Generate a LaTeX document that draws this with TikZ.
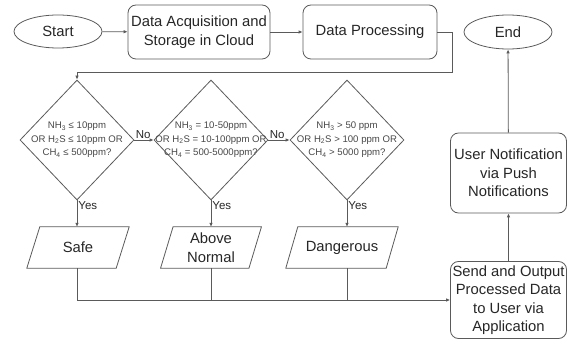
\documentclass[tikz,border=0pt]{standalone}
\usepackage{fontspec}
\setmainfont{Liberation Sans}
\usetikzlibrary{shapes.geometric,arrows.meta}
\definecolor{ln}{HTML}{5A5A5A}
\definecolor{tx}{HTML}{262626}
\definecolor{dtx}{HTML}{474747}
\tikzset{
  base/.style={draw=ln, line width=0.8pt, text=tx, font=\fontsize{14.8}{18.5}\selectfont, align=center, inner sep=0pt},
  term/.style={base, ellipse, minimum width=88pt, minimum height=33pt},
  procbox/.style={base, rounded corners=8pt},
  dia/.style={draw=ln, line width=0.8pt, diamond, minimum width=114pt, minimum height=120pt, inner sep=0pt},
  dtext/.style={font=\fontsize{9.6}{13.5}\selectfont, text=dtx, align=center, inner sep=0pt},
  io/.style={text=tx, font=\fontsize{14.8}{18.5}\selectfont, align=center, minimum height=41pt, inner sep=0pt},
  lab/.style={font=\fontsize{11.5}{13}\selectfont, text=tx, inner sep=1pt},
  arr/.style={draw=ln, line width=0.8pt, -{Latex[length=4pt,width=3.6pt]}},
  con/.style={draw=ln, line width=0.8pt}
}
\newcommand{\sbs}[1]{\textsubscript{#1}}
\begin{document}
\begin{tikzpicture}[x=1pt,y=-1pt]
\useasboundingbox (0,0) rectangle (568,339);
% top row
\node[term] (start) at (58,31.5) {Start};
\node[procbox, minimum width=142pt, minimum height=54pt] (acq) at (199,32) {Data Acquisition and\\Storage in Cloud};
\node[procbox, minimum width=134pt, minimum height=54pt] (proc) at (370,32) {Data Processing};
\node[term, minimum height=34pt] (end) at (508,32) {End};
% diamonds
\node[dia] (d1) at (77,140) {};
\node[dtext] (d1t) at (d1) {NH\sbs{3} ≤ 10ppm\\OR H\sbs{2}S ≤ 10ppm OR\\CH\sbs{4} ≤ 500ppm?};
\node[dia] (d2) at (211,140) {};
\node[dtext] (d2t) at (d2) {NH\sbs{3} = 10-50ppm\\OR H\sbs{2}S = 10-100ppm OR\\CH\sbs{4} = 500-5000ppm?};
\node[dia] (d3) at (347,140) {};
\node[dtext] (d3t) at (d3) {NH\sbs{3} > 50 ppm\\OR H\sbs{2}S > 100 ppm OR\\CH\sbs{4} > 5000 ppm?};
% parallelograms
\node[io, minimum width=89pt] (p1) at (78,247.5) {Safe};
\draw[con] ([xshift=6.5pt]p1.north west) -- ([xshift=6.5pt]p1.north east) -- ([xshift=-6.5pt]p1.south east) -- ([xshift=-6.5pt]p1.south west) -- cycle;
\node[io, minimum width=88pt] (p2) at (211,247.5) {Above\\Normal};
\draw[con] ([xshift=6.25pt]p2.north west) -- ([xshift=6.25pt]p2.north east) -- ([xshift=-6.25pt]p2.south east) -- ([xshift=-6.25pt]p2.south west) -- cycle;
\node[io, minimum width=100pt] (p3) at (342,247.5) {Dangerous};
\draw[con] ([xshift=6pt]p3.north west) -- ([xshift=6pt]p3.north east) -- ([xshift=-6pt]p3.south east) -- ([xshift=-6pt]p3.south west) -- cycle;
% right column
\node[procbox, minimum width=116pt, minimum height=80pt] (un) at (508.5,173) {User Notification\\via Push\\Notifications};
\node[procbox, minimum width=116pt, minimum height=77pt] (send) at (508.5,300) {Send and Output\\Processed Data\\to User via\\Application};
% connectors
\draw[arr] (start) -- (acq);
\draw[arr] (acq) -- (proc);
\coordinate (c1) at (452,72);
\draw[arr] (proc.east) -| (c1) -| (d1.north);
\draw[arr] (d1.east) -- (d2.west) node[lab, anchor=south west, pos=0] {No};
\draw[arr] (d2.east) -- (d3.west) node[lab, anchor=south west, pos=0] {No};
\draw[arr] (d1.south) -- (d1.south |- p1.north) node[lab, anchor=north west, pos=0] {Yes};
\draw[arr] (d2.south) -- (d2.south |- p2.north) node[lab, anchor=north west, pos=0] {Yes};
\draw[arr] (d3.south) -- (d3.south |- p3.north) node[lab, anchor=north west, pos=0] {Yes};
\draw[con] (d1 |- p1.south) -- (d1 |- send.west);
\draw[con] (d2 |- p2.south) -- (d2 |- send.west);
\draw[con] (d3 |- p3.south) -- (d3 |- send.west);
\draw[arr] (d1 |- send.west) -- (send.west);
\draw[arr] (send) -- (un);
\draw[arr] (un) -- (end);
\end{tikzpicture}
\end{document}
